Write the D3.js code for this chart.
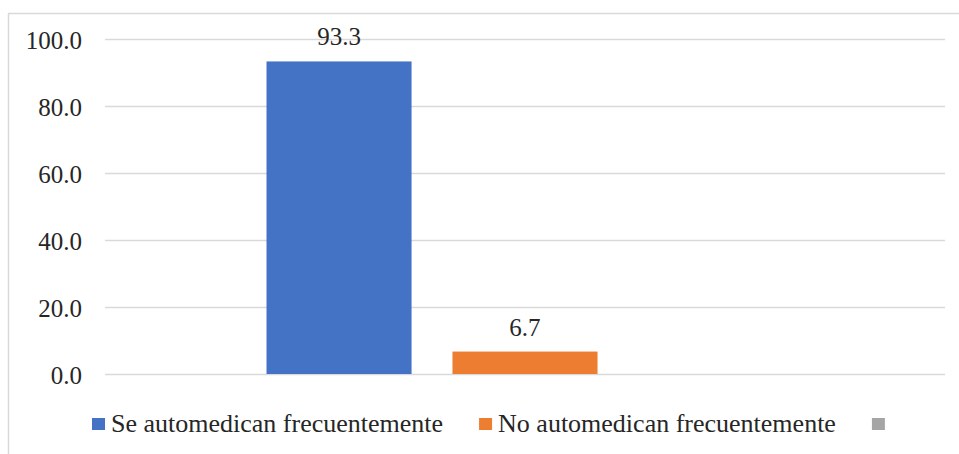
<!DOCTYPE html>
<html><head><meta charset="utf-8">
<script src="https://cdn.jsdelivr.net/npm/d3@7"></script>
<style>
html,body{margin:0;padding:0;background:#fff;}
svg{display:block;}
</style></head>
<body>
<svg id="chart" width="959" height="454" font-family="Liberation Serif"></svg>
<script>
const categories = [""];
const seriesNames = ["Se automedican frecuentemente", "No automedican frecuentemente", ""];
const seriesValues = [93.3, 6.7, null];
const seriesColors = ["#4472c4", "#ed7d31", "#a5a5a5"];
const yTicks = [0, 20, 40, 60, 80, 100];

const FONT = 'Liberation Serif';
const svg = d3.select("#chart");
const W = 959, H = 454;
const plot = {left: 105, right: 945, top: 39, bottom: 374};

// chart border (left and top visible)
svg.append("line").attr("x1", 8.5).attr("x2", 8.5).attr("y1", 13.5).attr("y2", H)
  .attr("stroke", "#d9d9d9").attr("stroke-width", 1.5);
svg.append("line").attr("x1", 8).attr("x2", W).attr("y1", 13.5).attr("y2", 13.5)
  .attr("stroke", "#d9d9d9").attr("stroke-width", 1.5);

const y = d3.scaleLinear().domain([0, 100]).range([plot.bottom, plot.top]);
const x0 = d3.scaleBand().domain(categories).range([plot.left, plot.right])
  .paddingInner(0).paddingOuter(0.3124);
const x1 = d3.scaleBand().domain(d3.range(seriesNames.length)).range([0, x0.bandwidth()])
  .paddingInner(0.22).paddingOuter(0);

// gridlines + y axis labels
const yAxis = d3.axisLeft(y).tickValues(yTicks).tickFormat(d3.format(".1f"))
  .tickSize(-(plot.right - plot.left)).tickPadding(23);
const gy = svg.append("g").attr("transform", `translate(${plot.left},0)`).call(yAxis)
  .attr("font-family", FONT);
gy.select(".domain").remove();
gy.selectAll(".tick line").attr("stroke", "#d9d9d9").attr("stroke-width", 1.5);
gy.selectAll(".tick text").attr("font-size", 25).attr("fill", "#262626")
  .attr("font-family", FONT).attr("dy", "0.36em");

// bars
const data = seriesValues.map((v, i) => ({i, v}));
const g = svg.append("g").attr("transform", `translate(${x0(categories[0])},0)`);
g.selectAll("rect").data(data.filter(d => d.v != null)).join("rect")
  .attr("x", d => x1(d.i)).attr("width", x1.bandwidth())
  .attr("y", d => y(d.v)).attr("height", d => y(0) - y(d.v))
  .attr("fill", d => seriesColors[d.i]);
g.selectAll("text.lbl").data(data.filter(d => d.v != null)).join("text")
  .attr("class", "lbl")
  .attr("x", d => x1(d.i) + x1.bandwidth() / 2)
  .attr("y", d => y(d.v) - 16)
  .attr("text-anchor", "middle").attr("font-size", 25).attr("font-family", FONT)
  .attr("fill", "#262626")
  .text(d => d3.format(".1f")(d.v));

// legend
const leg = svg.append("g");
let lx = 92;
seriesNames.forEach((name, i) => {
  leg.append("rect").attr("x", lx).attr("y", 418).attr("width", 13).attr("height", 12)
    .attr("fill", seriesColors[i]);
  const t = leg.append("text").attr("x", lx + 19).attr("y", 432)
    .attr("font-size", 26).attr("font-family", FONT).attr("fill", "#262626").text(name);
  const w = name ? t.node().getComputedTextLength() : 0;
  lx = lx + 19 + w + 36;
});
</script>
</body></html>
